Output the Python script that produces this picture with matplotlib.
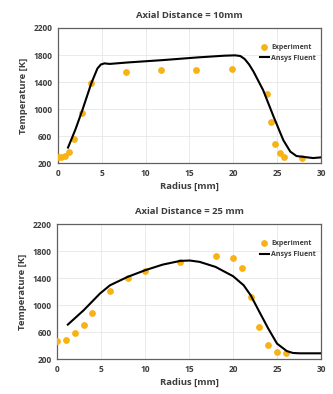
import matplotlib
matplotlib.use("Agg")
import matplotlib.pyplot as plt

# radial temperature profiles, two axial stations
r_exp_10 = [0.0, 0.35, 0.8, 1.25, 1.8, 2.8, 3.8, 7.8, 11.8, 15.8, 19.8, 23.8, 24.3, 24.8, 25.3, 25.8, 27.8]
t_exp_10 = [290, 290, 300, 370, 550, 940, 1380, 1555, 1580, 1585, 1600, 1220, 815, 480, 345, 290, 275]
r_cfd_10 = [1.15, 2.0, 2.8, 3.8, 4.5, 4.9, 5.3, 5.9, 8.0, 12.0, 16.0, 19.0, 20.2, 20.8, 21.3, 21.8, 22.3,
            23.4, 24.6, 25.7, 26.5, 27.2, 28.0, 29.1, 30.0]
t_cfd_10 = [430, 700, 990, 1380, 1600, 1660, 1676, 1668, 1690, 1725, 1765, 1790, 1795, 1785, 1740, 1660, 1555,
            1280, 885, 540, 370, 305, 292, 275, 285]

r_exp_25 = [0, 1, 2, 3, 4, 6, 8, 10, 14, 18, 20, 21, 22, 23, 24, 25, 26]
t_exp_25 = [472, 486, 595, 714, 886, 1212, 1410, 1500, 1647, 1726, 1696, 1548, 1120, 674, 412, 304, 289]
r_cfd_25 = [1.2, 3.0, 4.85, 6.0, 8.0, 10.0, 12.0, 14.0, 15.1, 16.2, 18.0, 20.0, 21.2, 22.0, 23.0, 24.0,
            25.0, 26.1, 26.8, 27.6, 30.0]
t_cfd_25 = [714, 926, 1173, 1296, 1420, 1519, 1602, 1657, 1662, 1642, 1568, 1430, 1296, 1148, 900, 655,
            432, 323, 294, 289, 289]

x_ticks = [0, 5, 10, 15, 20, 25, 30]
y_ticks = [200, 600, 1000, 1400, 1800, 2200]

txt = '#3d3d3d'
plt.rcParams['font.family'] = ['Open Sans', 'DejaVu Sans']
plt.rcParams['font.weight'] = 'bold'

fig = plt.figure(figsize=(3.33, 3.94), dpi=100)
ax1 = fig.add_axes([0.174, 0.586, 0.790, 0.343])
ax2 = fig.add_axes([0.172, 0.088, 0.792, 0.343])

panels = [(ax1, r_exp_10, t_exp_10, r_cfd_10, t_cfd_10, 'Axial Distance = 10mm'),
          (ax2, r_exp_25, t_exp_25, r_cfd_25, t_cfd_25, 'Axial Distance = 25 mm')]

for ax, rx, tx, rc, tc, title in panels:
    ax.scatter(rx, tx, s=15, color='#F7B314', zorder=3, label='Experiment')
    ax.plot(rc, tc, color='black', lw=1.5, zorder=4, label='Ansys Fluent')
    ax.set_xlim(0, 30)
    ax.set_ylim(200, 2200)
    ax.set_xticks(x_ticks)
    ax.set_yticks(y_ticks)
    ax.grid(True, color='#e6e6e6', lw=0.6)
    ax.set_axisbelow(True)
    for s in ax.spines.values():
        s.set_color('#606060')
        s.set_linewidth(0.9)
    ax.tick_params(length=0, labelsize=6, labelcolor=txt, pad=4)
    for lbl in ax.get_xticklabels() + ax.get_yticklabels():
        lbl.set_fontweight('bold')
    ax.set_title(title, fontsize=6.8, color=txt, fontweight='bold', pad=7)
    ax.set_xlabel('Radius [mm]', fontsize=6.8, color=txt, fontweight='bold', labelpad=3)
    ax.set_ylabel('Temperature [K]', fontsize=6.8, color=txt, fontweight='bold', labelpad=4)
    leg = ax.legend(loc='upper right', bbox_to_anchor=(1.0, 0.92), frameon=False, fontsize=5,
                    handlelength=1.4, handletextpad=0.3, labelspacing=0.6, borderaxespad=0.3)
    for t in leg.get_texts():
        t.set_color(txt)
        t.set_fontweight('bold')

fig.savefig('out.png', dpi=100)
